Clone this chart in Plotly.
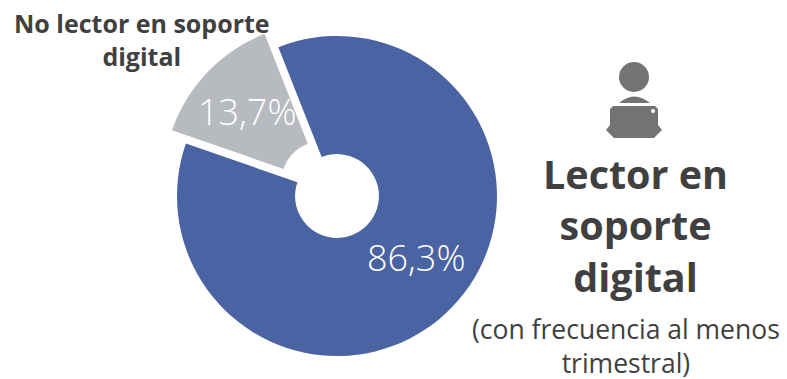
import plotly.graph_objects as go

W, H = 787, 379
labels = ["Lector en soporte digital", "No lector en soporte digital"]
values = [86.3, 13.7]
colors = ["#4A63A2", "#B7BABE"]
pulls = [0, 0.12]
display = ["86,3%", "13,7%"]

FONT = "Open Sans"
DARK = "#404040"
cx, cy, radius = 337, 196, 160
half = radius * (1 + max(pulls))

fig = go.Figure(go.Pie(
    labels=labels, values=values, sort=False, direction="clockwise", rotation=-21.5,
    hole=0.262, pull=pulls, marker=dict(colors=colors, line=dict(width=0)),
    textinfo="none", hoverinfo="label+percent", showlegend=False,
    domain=dict(x=[(cx - half) / W, (cx + half) / W],
                y=[1 - (cy + half) / H, 1 - (cy - half) / H]),
))


def note(x, y, text, size, color=DARK, bold=False, weight=400):
    return dict(xref="paper", yref="paper", x=x / W, y=1 - y / H, xanchor="center", yanchor="middle",
                text=f"<b>{text}</b>" if bold else text, showarrow=False, align="center",
                font=dict(family=FONT, size=size, color=color, weight=700 if bold else weight))


annotations = [
    note(416, 257, display[0], 36, "white", weight=300),
    note(247, 112, display[1], 36, "white", weight=300),
    note(142, 39, "No lector en soporte<br>digital", 25, bold=True),
    note(635, 225, "Lector en<br>soporte<br>digital", 39.5, bold=True),
    note(626, 346, "(con frecuencia al menos<br>trimestral)", 26.5),
]


def P(x, y):
    return f"{x / W:.5f} {1 - y / H:.5f}"


ICON = "#737373"
LINE = dict(width=0)
shapes = [
    dict(type="circle", xref="paper", yref="paper", x0=619 / W, x1=649 / W, y0=1 - 92 / H, y1=1 - 62 / H,
         fillcolor=ICON, line=LINE),
    dict(type="path", xref="paper", yref="paper", fillcolor=ICON, line=LINE,
         path=f"M {P(619, 103)} Q {P(634, 90)} {P(650, 103)} Z"),
    dict(type="path", xref="paper", yref="paper", fillcolor=ICON, line=LINE,
         path=(f"M {P(613, 106)} L {P(655, 106)} L {P(658, 109)} L {P(658, 125)} L {P(662, 130)} "
               f"L {P(654, 138)} L {P(614, 138)} L {P(606, 130)} L {P(610, 125)} L {P(610, 109)} Z")),
    dict(type="circle", xref="paper", yref="paper", x0=651 / W, x1=655 / W, y0=1 - 113 / H, y1=1 - 109 / H,
         fillcolor="white", line=LINE),
]

fig.update_layout(width=W, height=H, margin=dict(l=0, r=0, t=0, b=0), paper_bgcolor="white",
                  plot_bgcolor="white", annotations=annotations, shapes=shapes)
fig.write_html("out.html", config=dict(displayModeBar=False),
               post_script="document.body.style.margin='0';document.body.style.overflow='hidden';")
